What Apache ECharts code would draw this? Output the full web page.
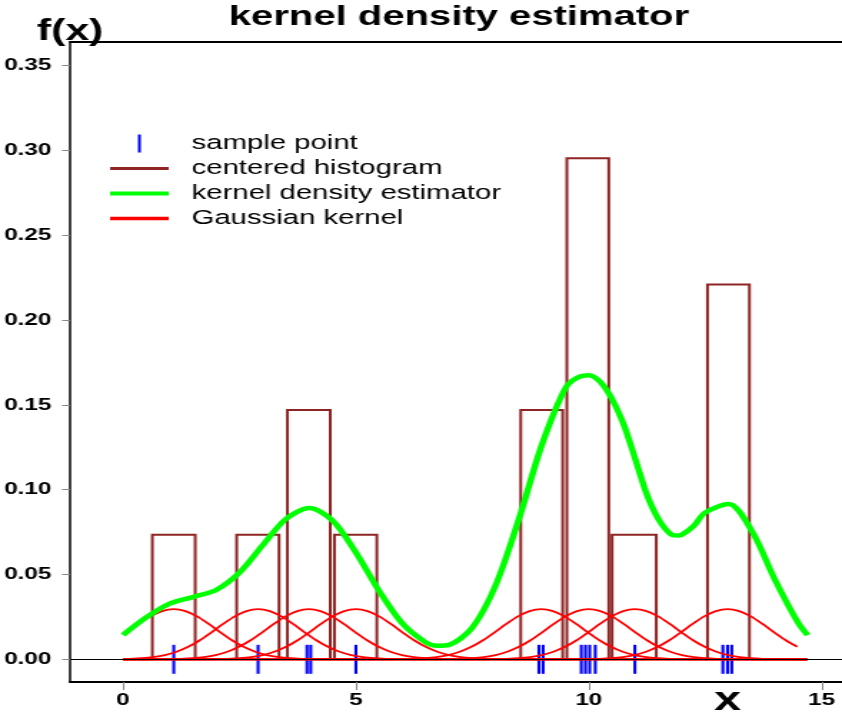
<!DOCTYPE html>
<html><head><meta charset="utf-8">
<script src="https://cdn.jsdelivr.net/npm/echarts@6/dist/echarts.min.js"></script>
<style>
html,body{margin:0;padding:0;background:#fff;overflow:hidden;}
#wrap{width:842px;height:713px;overflow:hidden;position:relative;}
#chart{width:589px;height:713px;transform:scaleX(1.4295);transform-origin:0 0;}
</style></head><body>
<div id="wrap"><div id="chart"></div></div>
<script>
// ---- data ----
const samplePoints = [1.09, 2.90, 3.95, 4.03, 5.00, 8.93, 9.02, 9.84, 9.93, 10.02, 10.14, 10.99, 12.88, 12.98, 13.07];
const kernelCenters = [1.09, 2.90, 3.99, 5.00, 8.98, 10.00, 10.99, 12.98];
const histLeft   = [0.63, 2.44, 3.53, 4.54, 8.54, 9.53, 10.50, 12.55];
const histRight  = [1.55, 3.35, 4.45, 5.45, 9.44, 10.43, 11.45, 13.45];
const histHeight = [0.0735, 0.0735, 0.147, 0.0735, 0.147, 0.2955, 0.0735, 0.221];
const kdeX = [0, 0.5, 1.0, 1.5, 2.0, 2.5, 3.0, 3.5, 4.0, 4.5, 5.0, 5.5, 6.0, 6.5, 6.75, 7.0, 7.5, 8.0, 8.5, 9.0, 9.5, 9.75, 10.0, 10.25, 10.5, 10.75, 11.0, 11.25, 11.5, 11.75, 11.9, 12.0, 12.25, 12.5, 13.0, 13.5, 14.0, 14.5, 14.7];
const kdeY = [0.0144, 0.0247, 0.0328, 0.0367, 0.0409, 0.0511, 0.0673, 0.0828, 0.0892, 0.0818, 0.0630, 0.0403, 0.0211, 0.0100, 0.0080, 0.0085, 0.0187, 0.0436, 0.0827, 0.1270, 0.1600, 0.1660, 0.1675, 0.1635, 0.1535, 0.1385, 0.1180, 0.0970, 0.0825, 0.0740, 0.0730, 0.0735, 0.0785, 0.0865, 0.0915, 0.0757, 0.0468, 0.0213, 0.0143];
const kernelOffset = [-3.5, -3, -2.75, -2.5, -2.25, -2, -1.75, -1.5, -1.25, -1, -0.75, -0.5, -0.25, 0, 0.25, 0.5, 0.75, 1, 1.25, 1.5, 1.75, 2, 2.25, 2.5, 2.75, 3, 3.5];
const kernelValue  = [0.00002, 0.00011, 0.00028, 0.00062, 0.00130, 0.00250, 0.00446, 0.00737, 0.01126, 0.01594, 0.02088, 0.02532, 0.02843, 0.02955, 0.02843, 0.02532, 0.02088, 0.01594, 0.01126, 0.00737, 0.00446, 0.00250, 0.00130, 0.00062, 0.00028, 0.00011, 0.00002];
const curveRange = [0, 14.7];
const xTicks = [0, 5, 10, 15];
const xTickLabels = ['0', '5', '10', '15'];
const yTicks = [0, 0.05, 0.10, 0.15, 0.20, 0.25, 0.30, 0.35];
const yTickLabels = ['0.00', '0.05', '0.10', '0.15', '0.20', '0.25', '0.30', '0.35'];
const legendNames = ['sample point', 'centered histogram', 'kernel density estimator', 'Gaussian kernel'];

// ---- styles ----
const FONT = '"Liberation Sans", Arial, Helvetica, sans-serif';
const BROWN = '#8E2424', GREEN = '#00FF00', RED = '#FF0000', BLUE = '#0000FF';

function lineIcon(t) {
  return 'path://M0,0h0.01v0.01h-0.01Z M40.99,17.99h0.01v0.01h-0.01Z M0,' + (9 - t / 2) + 'h41v' + t + 'h-41Z';
}
const tickIcon = 'path://M0,0h0.01v0.01h-0.01Z M40.99,17.99h0.01v0.01h-0.01Z M19.5,0h2v18h-2Z';

const histData = histLeft.map((l, i) => [l, histRight[i], histHeight[i]]);
const kdeData = kdeX.map((x, i) => [x, kdeY[i]]);

const kernelSeries = kernelCenters.map((p) => {
  const pts = [];
  if (p + kernelOffset[0] > curveRange[0]) pts.push([curveRange[0], 0]);
  kernelOffset.forEach((o, i) => {
    const x = p + o;
    if (x >= curveRange[0] && x <= curveRange[1]) pts.push([x, kernelValue[i]]);
  });
  if (p + kernelOffset[kernelOffset.length - 1] < curveRange[1]) pts.push([curveRange[1], 0]);
  return {
    name: 'Gaussian kernel', type: 'line', data: pts, smooth: 0.3,
    showSymbol: false, symbol: 'none', silent: true,
    itemStyle: { color: RED }, lineStyle: { color: RED, width: 1.8 }
  };
});

const chart = echarts.init(document.getElementById('chart'), null, { renderer: 'canvas' });
chart.setOption({
  animation: false,
  backgroundColor: '#ffffff',
  title: {
    text: 'kernel density estimator', left: 160, top: 3, padding: 0,
    textStyle: { fontFamily: FONT, fontSize: 28, fontWeight: 'bold', color: '#000' }
  },
  legend: {
    orient: 'vertical', left: 77, top: 133, padding: 0,
    itemWidth: 41, itemHeight: 18, itemGap: 4, selectedMode: false,
    textStyle: { fontFamily: FONT, fontSize: 20.5, color: '#000', padding: [0, 0, 0, 11] },
    data: [
      { name: legendNames[0], icon: tickIcon },
      { name: legendNames[1], icon: lineIcon(3) },
      { name: legendNames[2], icon: lineIcon(4) },
      { name: legendNames[3], icon: lineIcon(3.5) }
    ]
  },
  grid: { left: 49, top: 42, width: 545.3, height: 640, outerBoundsMode: 'none', containLabel: false },
  xAxis: [{
    type: 'value', min: -1.137, max: 15.6,
    axisLine: { show: true, onZero: false, lineStyle: { color: '#000', width: 2 } },
    axisTick: { show: true, customValues: xTicks, length: 8, lineStyle: { color: '#888', width: 1 } },
    axisLabel: {
      show: true, customValues: xTicks, margin: 10,
      formatter: (v) => xTickLabels[xTicks.indexOf(v)] ?? '',
      fontFamily: FONT, fontSize: 17, fontWeight: 'bold', color: '#000'
    },
    splitLine: { show: false }
  }, {
    type: 'value', position: 'top', min: -1.137, max: 15.6,
    axisLine: { show: true, onZero: false, lineStyle: { color: '#000', width: 2 } },
    axisTick: { show: false }, axisLabel: { show: false }, splitLine: { show: false }
  }],
  yAxis: {
    type: 'value', min: -0.01338, max: 0.36397,
    name: 'f(x)', nameLocation: 'end', nameGap: -5,
    nameTextStyle: { fontFamily: FONT, fontSize: 30, fontWeight: 'bold', color: '#000', align: 'center' },
    axisLine: { show: true, onZero: false, lineStyle: { color: '#000', width: 1.5 } },
    axisTick: { show: true, customValues: yTicks, length: 5.6, lineStyle: { color: '#888', width: 1 } },
    axisLabel: {
      show: true, customValues: yTicks, margin: 13,
      formatter: (v) => { const i = yTicks.findIndex(t => Math.abs(t - v) < 1e-9); return i >= 0 ? yTickLabels[i] : ''; },
      fontFamily: FONT, fontSize: 17, fontWeight: 'bold', color: '#000'
    },
    splitLine: { show: false }
  },
  graphic: [{
    type: 'text', x: 509, y: 718, silent: true,
    style: { text: 'x', font: 'bold 34px ' + FONT, fill: '#000', align: 'center', verticalAlign: 'bottom' }
  }],
  series: [
    {
      name: 'centered histogram', type: 'custom', data: histData,
      itemStyle: { color: BROWN },
      encode: { x: [0, 1], y: 2 },
      renderItem: function (params, api) {
        const p0 = api.coord([api.value(0), 0]);
        const p1 = api.coord([api.value(1), api.value(2)]);
        return {
          type: 'polyline',
          shape: { points: [[p0[0], p0[1]], [p0[0], p1[1]], [p1[0], p1[1]], [p1[0], p0[1]]] },
          style: { stroke: BROWN, lineWidth: 2, fill: null }
        };
      },
      markLine: {
        silent: true, symbol: 'none', label: { show: false },
        lineStyle: { color: '#000', width: 1, type: 'solid' },
        data: [{ yAxis: 0 }]
      }
    },
    ...kernelSeries,
    {
      name: 'kernel density estimator', type: 'line', data: kdeData, smooth: 0.3,
      showSymbol: false, symbol: 'none',
      itemStyle: { color: GREEN }, lineStyle: { color: GREEN, width: 4.5 }
    },
    {
      name: 'sample point', type: 'scatter', data: samplePoints.map(p => [p, 0]),
      symbol: 'rect', symbolSize: [2.1, 29], symbolKeepAspect: false,
      itemStyle: { color: BLUE, opacity: 1 }
    }
  ]
});
</script>
</body></html>
